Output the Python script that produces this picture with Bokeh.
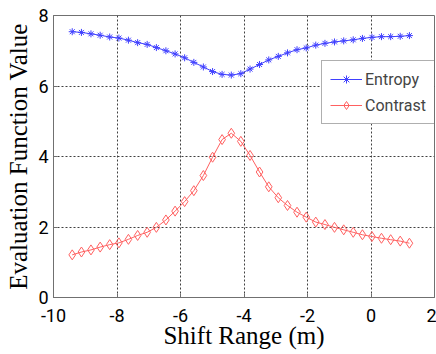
from bokeh.plotting import figure
from bokeh.models import Legend, LegendItem, Range1d, FixedTicker
from bokeh.embed import file_html
from bokeh.resources import INLINE

shift = [-9.41, -9.12, -8.82, -8.53, -8.23, -7.94, -7.64, -7.35, -7.05, -6.76,
         -6.46, -6.17, -5.87, -5.58, -5.28, -4.99, -4.69, -4.40, -4.10, -3.81,
         -3.51, -3.22, -2.92, -2.63, -2.33, -2.04, -1.74, -1.45, -1.15, -0.86,
         -0.56, -0.27, 0.03, 0.33, 0.62, 0.92, 1.21]
entropy = [7.54, 7.52, 7.48, 7.44, 7.39, 7.36, 7.30, 7.23, 7.18, 7.09,
           7.00, 6.91, 6.80, 6.67, 6.54, 6.41, 6.33, 6.31, 6.35, 6.48,
           6.61, 6.74, 6.84, 6.94, 7.03, 7.08, 7.16, 7.21, 7.25, 7.28,
           7.31, 7.35, 7.38, 7.40, 7.40, 7.41, 7.43]
contrast = [1.21, 1.29, 1.35, 1.43, 1.50, 1.55, 1.65, 1.76, 1.85, 1.99,
            2.20, 2.45, 2.72, 3.03, 3.46, 3.98, 4.48, 4.66, 4.43, 4.03,
            3.56, 3.14, 2.83, 2.61, 2.42, 2.28, 2.14, 2.07, 1.99, 1.92,
            1.85, 1.78, 1.73, 1.68, 1.64, 1.60, 1.54]
x_ticks = [-10, -8, -6, -4, -2, 0, 2]
x_tick_labels = ["-10", "-8", "-6", "-4", "-2", "0", "2"]
y_ticks = [0, 2, 4, 6, 8]
y_tick_labels = ["0", "2", "4", "6", "8"]

p = figure(output_backend="svg", toolbar_location=None,
           frame_width=381, frame_height=282,
           x_range=Range1d(-10, 2), y_range=Range1d(0, 8),
           min_border_left=53, min_border_right=2,
           min_border_top=15, min_border_bottom=55)
p.background_fill_color = "white"
p.border_fill_color = "white"
p.outline_line_color = "#707070"

tick_font = "Roboto"
for ax in (p.xaxis[0], p.yaxis[0]):
    ax.axis_line_color = "#707070"
    ax.major_tick_line_color = "#707070"
    ax.major_tick_in = 4
    ax.major_tick_out = 0
    ax.minor_tick_line_color = None
    ax.major_label_text_font = tick_font
    ax.major_label_text_font_size = "18px"
    ax.major_label_text_color = "black"
    ax.axis_label_text_font = "Liberation Serif"
    ax.axis_label_text_font_size = "25px"
    ax.axis_label_text_font_style = "normal"
    ax.axis_label_text_color = "black"

p.xaxis.ticker = FixedTicker(ticks=x_ticks)
p.yaxis.ticker = FixedTicker(ticks=y_ticks)
p.xaxis.major_label_overrides = dict(zip(x_ticks, x_tick_labels))
p.yaxis.major_label_overrides = dict(zip(y_ticks, y_tick_labels))
p.xaxis.axis_label = "Shift Range (m)"
p.yaxis.axis_label = "Evaluation Function Value"
p.xaxis.major_label_standoff = 11
p.yaxis.major_label_standoff = 5
p.xaxis.axis_label_standoff = -3
p.yaxis.axis_label_standoff = 3

p.xgrid.ticker = FixedTicker(ticks=x_ticks)
p.ygrid.ticker = FixedTicker(ticks=y_ticks)
for g in (p.xgrid[0], p.ygrid[0]):
    g.grid_line_color = "#404040"
    g.grid_line_dash = "2 2"
    g.grid_line_width = 1

blue = "#4040ff"
red = "#ff6060"
l1 = p.line(shift, entropy, line_color=blue, line_width=1)
m1 = p.scatter(shift, entropy, marker="asterisk", size=7, line_color=blue, line_width=1)
l2 = p.line(shift, contrast, line_color=red, line_width=1)
m2 = p.scatter(shift, contrast, marker="diamond", size=10, fill_color=None,
               line_color=red, line_width=1)

legend = Legend(items=[LegendItem(label="Entropy", renderers=[l1, m1]),
                       LegendItem(label="Contrast", renderers=[l2, m2])],
                location=(268, 173))
legend.label_text_font = tick_font
legend.label_text_font_size = "16px"
legend.glyph_width = 32
legend.glyph_height = 20
legend.label_height = 20
legend.label_standoff = 3
legend.spacing = 6
legend.padding = 8
legend.margin = 0
legend.border_line_color = "#606060"
legend.border_line_width = 1
legend.background_fill_color = "white"
legend.background_fill_alpha = 1
p.add_layout(legend)

open("out.html", "w").write(file_html(p, INLINE))
